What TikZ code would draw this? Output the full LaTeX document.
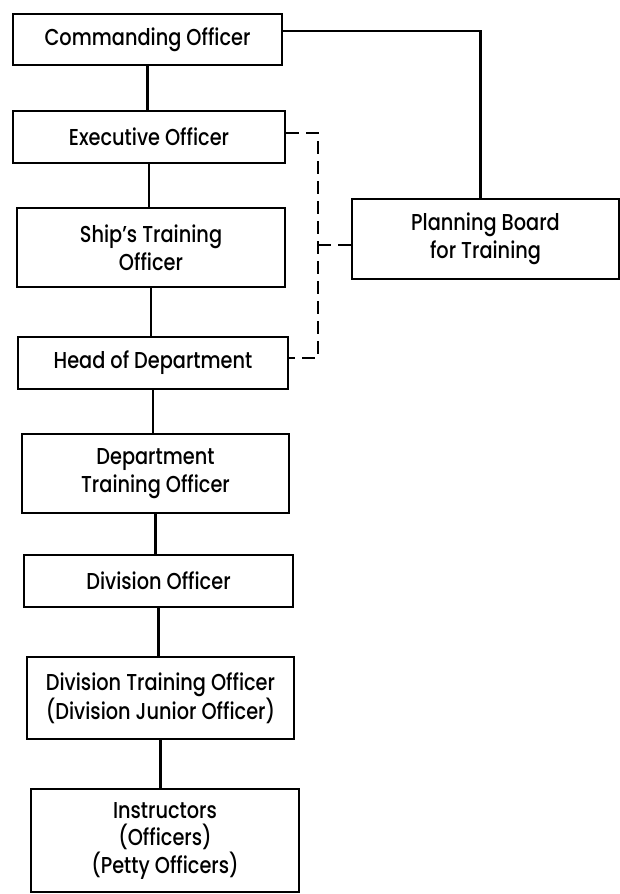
\documentclass[tikz,border=0pt]{standalone}
\usepackage{fontspec}
\setmainfont{Poppins}[UprightFont=* Medium, FakeStretch=0.84]
\begin{document}
\begin{tikzpicture}[x=1pt,y=-1pt,
  box/.style={draw=black, line width=2.2pt, rectangle, inner sep=0pt, align=center,
    font=\fontsize{23}{27.5}\selectfont},
  link/.style={line width=2.8pt},
  dashlink/.style={line width=2.6pt, dash pattern=on 13pt off 7pt}]
\useasboundingbox (0,0) rectangle (620,894);
\fill[white] (0,0) rectangle (620,894);
\node[box, minimum width=269pt, minimum height=51pt] (co) at (147.5,39.5) {Commanding Officer};
\node[box, minimum width=272pt, minimum height=52pt] (xo) at (149,137) {Executive Officer};
\node[box, minimum width=268pt, minimum height=79pt] (sto) at (151,247.5) {Ship's Training\\Officer};
\node[box, minimum width=267pt, minimum height=80pt] (pb) at (485.5,239) {Planning Board\\for Training};
\node[box, minimum width=270pt, minimum height=52pt] (hod) at (153,363) {Head of Department};
\node[box, minimum width=267pt, minimum height=79pt] (dto) at (155.5,473.5) {Department\\Training Officer};
\node[box, minimum width=269pt, minimum height=52pt] (do) at (158.5,581) {Division Officer};
\node[box, minimum width=267pt, minimum height=82pt] (dvto) at (160.5,698) {Division Training Officer\\(Division Junior Officer)};
\node[box, minimum width=268pt, minimum height=103pt] (ins) at (165,840.5) {Instructors\\(Officers)\\(Petty Officers)};
% solid chain
\draw[link] (co.south) -- (co.south |- xo.north);
\draw[link] (xo.south) -- (xo.south |- sto.north);
\draw[link] (sto.south) -- (sto.south |- hod.north);
\draw[link] (hod.south) -- (hod.south |- dto.north);
\draw[link] (dto.south) -- (dto.south |- do.north);
\draw[link] (do.south) -- (do.south |- dvto.north);
\draw[link] (dvto.south) -- (dvto.south |- ins.north);
% commanding officer to planning board
\draw[link] ([yshift=8.5pt]co.east) -| ([xshift=-5pt]pb.north);
% dashed staff links
\coordinate (dv) at (318,245);
\draw[dashlink] ([yshift=4pt]xo.east) -| (dv) |- ([yshift=5pt]hod.east);
\draw[dashlink] (dv) -- (pb.west |- dv);
\end{tikzpicture}
\end{document}
